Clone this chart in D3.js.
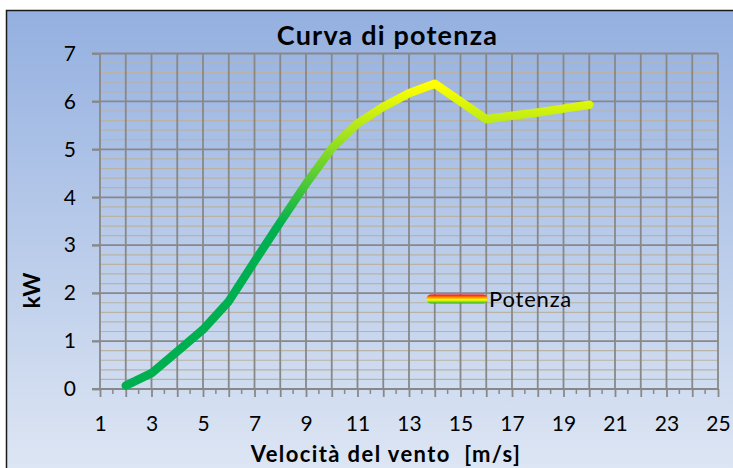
<!DOCTYPE html>
<html>
<head>
<meta charset="utf-8">
<script src="https://cdn.jsdelivr.net/npm/d3@7"></script>
<style>
  html, body { margin: 0; padding: 0; background: #ffffff; }
  svg { display: block; }
  text { font-family: Lato, "Open Sans", sans-serif; fill: #000; }
</style>
</head>
<body>
<svg id="chart" width="733" height="468"></svg>
<script>
// ---- data ----
const windSpeed = [2, 3, 4, 5, 6, 7, 8, 9, 10, 11, 12, 13, 14, 15, 16, 17, 18, 19, 20];
const powerKW   = [0.07, 0.33, 0.78, 1.24, 1.83, 2.66, 3.48, 4.28, 5.02, 5.54, 5.89, 6.17, 6.37, 6.0, 5.63, 5.70, 5.77, 5.85, 5.93];
const xTickLabels = [1, 3, 5, 7, 9, 11, 13, 15, 17, 19, 21, 23, 25];
const yTickLabels = [0, 1, 2, 3, 4, 5, 6, 7];
const seriesName = "Potenza";
const chartTitle = "Curva di potenza";
const xTitle = "Velocità del vento  [m/s]";
const yTitle = "kW";

const svg = d3.select("#chart");
const defs = svg.append("defs");

// background gradient
const bg = defs.append("linearGradient").attr("id", "bgGrad")
  .attr("x1", 0).attr("y1", 0).attr("x2", 0).attr("y2", 1);
bg.append("stop").attr("offset", "0%").attr("stop-color", "#94b0e0");
bg.append("stop").attr("offset", "100%").attr("stop-color", "#dfe7f4");

svg.append("rect").attr("x", 6.5).attr("y", 10.5).attr("width", 740).attr("height", 470)
  .attr("fill", "url(#bgGrad)").attr("stroke", "#1a1a1a").attr("stroke-width", 1.5);

const x = d3.scaleLinear().domain([1, 25]).range([100, 718]);
const y = d3.scaleLinear().domain([0, 7]).range([389, 53.5]);

// minor horizontal gridlines every 0.2
const minorY = d3.range(0, 7.001, 0.2).filter(v => Math.abs(v - Math.round(v)) > 0.01);
svg.append("g").selectAll("line").data(minorY).join("line")
  .attr("x1", x(1)).attr("x2", x(25))
  .attr("y1", d => y(d)).attr("y2", d => y(d))
  .attr("stroke", "#b9b3a3").attr("stroke-width", 1.2);

// major vertical gridlines
svg.append("g").selectAll("line").data(d3.range(2, 26)).join("line")
  .attr("x1", d => x(d)).attr("x2", d => x(d))
  .attr("y1", y(7)).attr("y2", y(0))
  .attr("stroke", "#888888").attr("stroke-width", 1.8);

// major horizontal gridlines
svg.append("g").selectAll("line").data(d3.range(1, 8)).join("line")
  .attr("x1", x(1) - 8).attr("x2", x(25))
  .attr("y1", d => y(d)).attr("y2", d => y(d))
  .attr("stroke", "#888888").attr("stroke-width", 1.8);

// y axis
const yAxis = d3.axisLeft(y).tickValues(yTickLabels).tickSize(8).tickPadding(16)
  .tickFormat(d3.format("d"));
const gy = svg.append("g").attr("transform", `translate(${x(1)},0)`).call(yAxis);
gy.select(".domain").attr("stroke", "#888888").attr("stroke-width", 1.8).attr("d", `M0,${y(0)}V${y(7)}`);
gy.selectAll(".tick line").attr("stroke", "#888888").attr("stroke-width", 1.8);
gy.selectAll(".tick text").attr("font-size", 21).attr("font-family", "Lato, sans-serif").attr("fill", "#000");

// x axis: minor ticks
svg.append("g").selectAll("line").data(d3.range(1.5, 25, 1)).join("line")
  .attr("x1", d => x(d)).attr("x2", d => x(d))
  .attr("y1", y(0)).attr("y2", y(0) + 5)
  .attr("stroke", "#888888").attr("stroke-width", 1.5);

const xAxis = d3.axisBottom(x).tickValues(d3.range(1, 26)).tickSize(8).tickPadding(19)
  .tickFormat(d => xTickLabels.includes(d) ? d : "");
const gx = svg.append("g").attr("transform", `translate(0,${y(0)})`).call(xAxis);
gx.select(".domain").attr("stroke", "#888888").attr("stroke-width", 1.8).attr("d", `M${x(1) - 8},0H${x(25)}`);
gx.selectAll(".tick line").attr("stroke", "#888888").attr("stroke-width", 1.8);
gx.selectAll(".tick text").attr("font-size", 21).attr("font-family", "Lato, sans-serif").attr("fill", "#000");

// line gradient
const lg = defs.append("linearGradient").attr("id", "lineGrad")
  .attr("gradientUnits", "userSpaceOnUse")
  .attr("x1", 0).attr("x2", 0).attr("y1", y(3.4)).attr("y2", y(6.35));
lg.append("stop").attr("offset", "0%").attr("stop-color", "#00b050");
lg.append("stop").attr("offset", "100%").attr("stop-color", "#ffff00");

const pts = windSpeed.map((v, i) => [v, powerKW[i]]);
svg.append("path").datum(pts)
  .attr("d", d3.line().x(d => x(d[0])).y(d => y(d[1])))
  .attr("fill", "none").attr("stroke", "url(#lineGrad)")
  .attr("stroke-width", 8.5).attr("stroke-linecap", "round").attr("stroke-linejoin", "round");

// legend
const legG = defs.append("linearGradient").attr("id", "legGrad")
  .attr("gradientUnits", "userSpaceOnUse")
  .attr("x1", 0).attr("x2", 0).attr("y1", 294.5).attr("y2", 303.5);
legG.append("stop").attr("offset", "0%").attr("stop-color", "#ff0000");
legG.append("stop").attr("offset", "35%").attr("stop-color", "#ffa000");
legG.append("stop").attr("offset", "60%").attr("stop-color", "#ffff00");
legG.append("stop").attr("offset", "100%").attr("stop-color", "#22b040");
svg.append("line").attr("x1", 431).attr("x2", 483).attr("y1", 299).attr("y2", 299)
  .attr("stroke", "url(#legGrad)").attr("stroke-width", 9).attr("stroke-linecap", "round");
svg.append("text").attr("x", 489).attr("y", 306.5).attr("font-size", 22)
  .attr("letter-spacing", 0.8).text(seriesName);

// titles
svg.append("text").attr("x", 387.5).attr("y", 45).attr("text-anchor", "middle")
  .attr("font-size", 27).attr("font-weight", "bold").attr("letter-spacing", 1.2).text(chartTitle);
svg.append("text").attr("x", 386).attr("y", 461.5).attr("text-anchor", "middle")
  .attr("font-size", 22).attr("font-weight", "bold").attr("letter-spacing", 1.4)
  .style("white-space", "pre").text(xTitle);
svg.append("text").attr("transform", "translate(40,290.5) rotate(-90)").attr("text-anchor", "middle")
  .attr("font-size", 23).attr("font-weight", "bold").text(yTitle);
</script>
</body>
</html>
